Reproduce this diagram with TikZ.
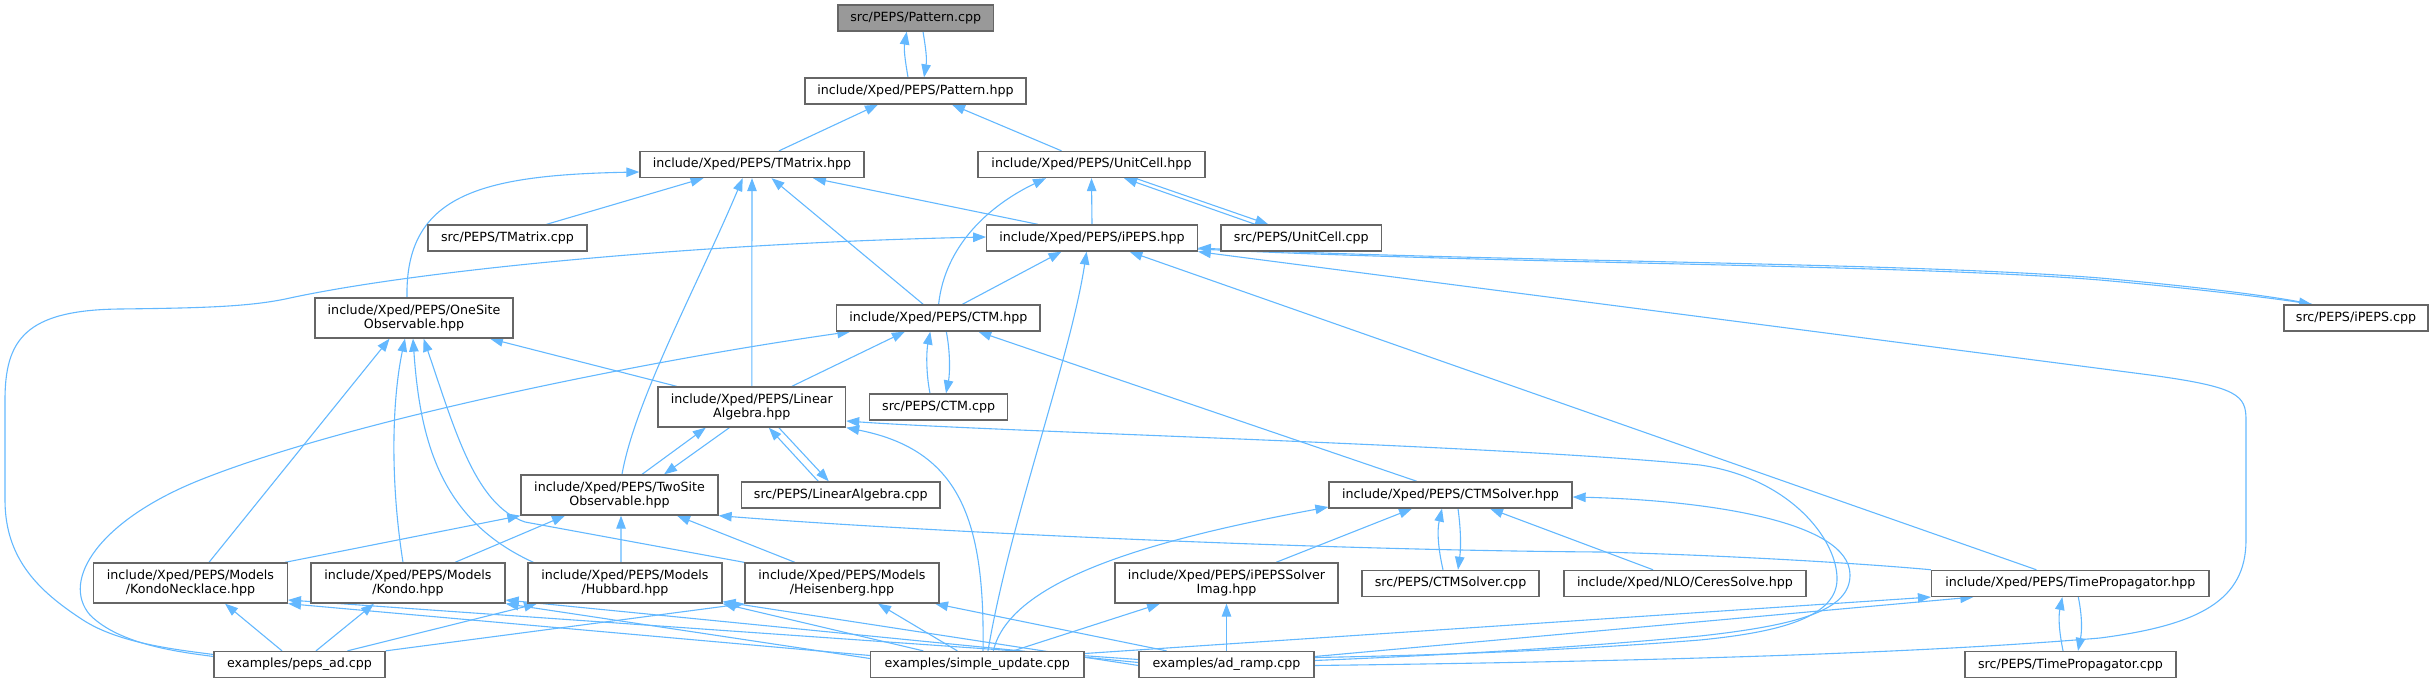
\documentclass[tikz,border=0pt]{standalone}
\usepackage{fontspec}
\setmainfont{DejaVu Sans}
\usetikzlibrary{arrows.meta}
\definecolor{edgeblue}{HTML}{63B8FF}
\definecolor{boxborder}{HTML}{666666}
\definecolor{rootfill}{HTML}{999999}
\newcommand\dxfont{\fontsize{12.66bp}{14bp}\selectfont}
\pgfdeclarelayer{background}
\pgfsetlayers{background,main}
\tikzset{
  box/.style={draw=boxborder, fill=white, line width=1.3bp, rectangle, inner sep=0pt,
    minimum height=26bp, align=center, font=\dxfont},
  box2/.style={box, minimum height=40bp},
  dep/.style={draw=edgeblue, line width=1.1bp, {Triangle[length=13bp,width=9.5bp]}-}
}
\begin{document}
\begin{tikzpicture}[x=1bp,y=-1bp]
\useasboundingbox (0,0) rectangle (2433,681);
% nodes
\node[box, fill=rootfill, minimum width=155.5bp] (patcpp) at (915.7,18) {src/PEPS/Pattern.cpp};
\node[box, minimum width=221bp] (pathpp) at (915.5,91) {include/Xped/PEPS/Pattern.hpp};
\node[box, minimum width=224bp] (tmhpp) at (752,164.5) {include/Xped/PEPS/TMatrix.hpp};
\node[box, minimum width=227bp] (uchpp) at (1091.5,164.5) {include/Xped/PEPS/UnitCell.hpp};
\node[box, minimum width=159bp] (tmcpp) at (507.5,238) {src/PEPS/TMatrix.cpp};
\node[box, minimum width=210.5bp] (ipepshpp) at (1092,238) {include/Xped/PEPS/iPEPS.hpp};
\node[box, minimum width=160.5bp] (uccpp) at (1301.3,238) {src/PEPS/UnitCell.cpp};
\node[box2, minimum width=198bp] (onesite) at (414,318) {include/Xped/PEPS/OneSite\\Observable.hpp};
\node[box, minimum width=203.5bp] (ctmhpp) at (938.3,318) {include/Xped/PEPS/CTM.hpp};
\node[box, minimum width=144bp] (ipepscpp) at (2356,318) {src/PEPS/iPEPS.cpp};
\node[box2, minimum width=187.5bp] (lahpp) at (751.8,407) {include/Xped/PEPS/Linear\\Algebra.hpp};
\node[box, minimum width=138bp] (ctmcpp) at (938.6,407) {src/PEPS/CTM.cpp};
\node[box2, minimum width=197bp] (twosite) at (619.5,495) {include/Xped/PEPS/TwoSite\\Observable.hpp};
\node[box, minimum width=198.5bp] (lacpp) at (840.8,495) {src/PEPS/LinearAlgebra.cpp};
\node[box, minimum width=243bp] (ctmsolverhpp) at (1450.5,495) {include/Xped/PEPS/CTMSolver.hpp};
\node[box2, minimum width=193.7bp] (kondonecklace) at (190.5,583) {include/Xped/PEPS/Models\\/KondoNecklace.hpp};
\node[box2, minimum width=194bp] (kondo) at (408,583) {include/Xped/PEPS/Models\\/Kondo.hpp};
\node[box2, minimum width=194bp] (hubbard) at (625,583) {include/Xped/PEPS/Models\\/Hubbard.hpp};
\node[box2, minimum width=194bp] (heisenberg) at (842,583) {include/Xped/PEPS/Models\\/Heisenberg.hpp};
\node[box2, minimum width=223bp] (ipepssolver) at (1226.5,583) {include/Xped/PEPS/iPEPSSolver\\Imag.hpp};
\node[box, minimum width=177bp] (ctmsolvercpp) at (1450.5,583.4) {src/PEPS/CTMSolver.cpp};
\node[box, minimum width=242bp] (ceres) at (1685,583.4) {include/Xped/NLO/CeresSolve.hpp};
\node[box, minimum width=277.5bp] (tphpp) at (2070.3,583.4) {include/Xped/PEPS/TimePropagator.hpp};
\node[box, minimum width=171bp] (pepsad) at (299.5,664.5) {examples/peps\_ad.cpp};
\node[box, minimum width=213.4bp] (simpleupdate) at (977.3,664.5) {examples/simple\_update.cpp};
\node[box, minimum width=175bp] (adramp) at (1226.5,664.5) {examples/ad\_ramp.cpp};
\node[box, minimum width=211bp] (tpcpp) at (2070.5,664.5) {src/PEPS/TimePropagator.cpp};

\begin{pgfonlayer}{background}
% Pattern
\draw[dep] ([xshift=-9bp]patcpp.south) .. controls +(-3,18) and +(-3,-18) .. ([xshift=-7.5bp]pathpp.north);
\draw[dep] ([xshift=8.5bp]pathpp.north) .. controls +(3,-18) and +(3,18) .. ([xshift=7.3bp]patcpp.south);
\draw[dep] ([xshift=-37.5bp]pathpp.south) -- ([xshift=27bp]tmhpp.north);
\draw[dep] ([xshift=36.5bp]pathpp.south) -- ([xshift=-30bp]uchpp.north);
% TMatrix
\draw[dep] ([yshift=-7.5bp]tmhpp.west) .. controls (480,175) and (405,195) .. ([xshift=-7bp]onesite.north);
\draw[dep] ([xshift=-48.5bp]tmhpp.south) -- ([xshift=39bp]tmcpp.north);
\draw[dep] ([xshift=-9.3bp]tmhpp.south) .. controls (700,280) and (635,400) .. ([xshift=2.5bp]twosite.north);
\draw[dep] (tmhpp.south) -- (lahpp.north);
\draw[dep] ([xshift=19.5bp]tmhpp.south) -- ([xshift=-15bp]ctmhpp.north);
\draw[dep] ([xshift=61bp]tmhpp.south) -- ([xshift=-54bp]ipepshpp.north);
% UnitCell
\draw[dep] ([xshift=-45.5bp]uchpp.south) .. controls (990,205) and (945,245) .. ([xshift=0.3bp]ctmhpp.north);
\draw[dep] (uchpp.south) -- (ipepshpp.north);
\draw[dep] ([xshift=32.5bp]uchpp.south) -- ([xshift=-46bp]uccpp.north);
\draw[dep] ([xshift=-33bp]uccpp.north) -- ([xshift=43.5bp]uchpp.south);
% iPEPS
\draw[dep] ([yshift=1bp]ipepshpp.west) .. controls (700,243) and (420,270) .. (290,298)
  .. controls (250,307) and (200,308) .. (120,309) .. controls (25,310) and (5,340) .. (5,400)
  -- (5,500) .. controls (5,560) and (40,592) .. (83,620) .. controls (120,644) and (180,650) .. ([yshift=10bp]pepsad.west);
\draw[dep] ([xshift=-88bp]ctmhpp.south) .. controls (650,360) and (350,420) .. (200,480)
  .. controls (100,520) and (60,580) .. (90,615) .. controls (120,645) and (180,652) .. ([yshift=8bp]pepsad.west);
\draw[dep] ([xshift=-30.5bp]ipepshpp.south) -- ([xshift=24bp]ctmhpp.north);
\draw[dep] ([xshift=-5.4bp]ipepshpp.south) .. controls (1070,360) and (1010,520) .. ([xshift=10.7bp]simpleupdate.north);
\draw[dep] ([xshift=37.5bp]ipepshpp.south) -- ([xshift=-34bp]tphpp.north);
\draw[dep] (ipepshpp.south east) -- (2150,375) .. controls (2238,387) and (2246,395) .. (2246,420)
  -- (2246,540) .. controls (2246,600) and (2200,625) .. (2100,638)
  .. controls (1900,655) and (1600,662) .. ([yshift=-1bp]adramp.east);
\draw[dep] ([yshift=-10bp]ipepshpp.east) .. controls (1500,262) and (1900,262) .. (2100,278)
  .. controls (2200,287) and (2280,297) .. ([xshift=-44bp]ipepscpp.north);
\draw[dep] ([xshift=-44bp]ipepscpp.north) .. controls (2278,299) and (2200,289) .. (2100,280)
  .. controls (1900,264) and (1500,264) .. ([yshift=-11bp]ipepshpp.east);
% CTM
\draw[dep] ([xshift=-8bp]ctmhpp.south) .. controls +(-4,20) and +(-4,-20) .. ([xshift=-8.6bp]ctmcpp.north);
\draw[dep] ([xshift=7.4bp]ctmcpp.north) .. controls +(4,-20) and +(4,20) .. ([xshift=8bp]ctmhpp.south);
\draw[dep] ([xshift=-33.4bp]ctmhpp.south) -- ([xshift=40bp]lahpp.north);
\draw[dep] ([xshift=40bp]ctmhpp.south) -- ([xshift=-33.5bp]ctmsolverhpp.north);
% OneSite
\draw[dep] ([xshift=76bp]onesite.south) -- ([xshift=-75bp]lahpp.north);
\draw[dep] ([xshift=-24.4bp]onesite.south) -- ([xshift=18.5bp]kondonecklace.north);
\draw[dep] ([xshift=-9bp]onesite.south) .. controls (392,400) and (390,480) .. ([xshift=-5bp]kondo.north);
\draw[dep] ([xshift=-1bp]onesite.south) .. controls (420,440) and (440,520) .. ([xshift=-91.5bp]hubbard.north);
\draw[dep] ([xshift=9.6bp]onesite.south) .. controls (455,430) and (475,505) .. (525,522) -- (heisenberg.north west);
% LinearAlgebra
\draw[dep] ([xshift=-46bp]lahpp.south) -- ([xshift=22.5bp]twosite.north);
\draw[dep] ([xshift=44.5bp]twosite.north) -- ([xshift=-22.4bp]lahpp.south);
\draw[dep] ([xshift=17bp]lahpp.south) -- ([xshift=-22.5bp]lacpp.north);
\draw[dep] ([xshift=-12bp]lacpp.north) -- ([xshift=27bp]lahpp.south);
\draw[dep] (lahpp.south east) .. controls (960,450) and (985,520) .. ([xshift=5.7bp]simpleupdate.north);
\draw[dep] ([yshift=-14bp]lahpp.east) .. controls (1000,432) and (1500,445) .. (1700,465)
  .. controls (1790,478) and (1838,540) .. (1837,580) .. controls (1836,620) and (1770,633) .. (1700,640)
  .. controls (1550,652) and (1400,656) .. ([yshift=7bp]adramp.east);
% TwoSite
\draw[dep] (twosite.south east) .. controls (900,530) and (1300,550) .. (1600,552)
  .. controls (1750,556) and (1880,565) .. (tphpp.north west);
\draw[dep] (twosite.south west) -- ([xshift=-3bp]kondonecklace.north east);
\draw[dep] ([xshift=-54.5bp]twosite.south) -- ([xshift=47bp]kondo.north);
\draw[dep] ([xshift=1.5bp]twosite.south) -- ([xshift=-4bp]hubbard.north);
\draw[dep] ([xshift=57.5bp]twosite.south) -- ([xshift=-47bp]heisenberg.north);
% CTMSolver
\draw[dep] ([yshift=-12bp]ctmsolverhpp.west) .. controls (1150,540) and (1010,580) .. ([xshift=16bp]simpleupdate.north);
\draw[dep] ([xshift=-38.5bp]ctmsolverhpp.south) -- ([xshift=49.5bp]ipepssolver.north);
\draw[dep] ([xshift=-8.5bp]ctmsolverhpp.south) .. controls +(-5,22) and +(-5,-22) .. ([xshift=-7.5bp]ctmsolvercpp.north);
\draw[dep] ([xshift=7.5bp]ctmsolvercpp.north) .. controls +(3,-22) and +(3,22) .. ([xshift=7.5bp]ctmsolverhpp.south);
\draw[dep] ([xshift=39.5bp]ctmsolverhpp.south) -- ([xshift=-32bp]ceres.north);
\draw[dep] ([yshift=-2bp]ctmsolverhpp.east) .. controls (1700,500) and (1850,520) .. (1850,575)
  .. controls (1850,610) and (1800,625) .. (1700,636) .. controls (1550,650) and (1400,657) .. ([yshift=4bp]adramp.east);
% peps_ad
\draw[dep] ([xshift=34.5bp]kondonecklace.south) -- ([xshift=-17.5bp]pepsad.north);
\draw[dep] ([xshift=-34bp]kondo.south) -- ([xshift=16.5bp]pepsad.north);
\draw[dep] ([xshift=-88bp]hubbard.south) -- ([xshift=48bp]pepsad.north);
\draw[dep] (heisenberg.south west) -- (pepsad.north east);
% simple_update and ad_ramp to models
\draw[dep] (kondonecklace.south east) -- ([yshift=9bp]simpleupdate.west);
\draw[dep] ([yshift=-17bp]kondonecklace.east) -- ([yshift=5bp]adramp.west);
\draw[dep] (kondo.south east) -- ([yshift=6bp]simpleupdate.west);
\draw[dep] ([yshift=-17bp]kondo.east) -- ([yshift=2bp]adramp.west);
\draw[dep] (hubbard.south east) -- ([xshift=-54bp]simpleupdate.north);
\draw[dep] ([yshift=2bp]hubbard.south east) -- ([yshift=-1bp]adramp.west);
\draw[dep] ([xshift=36bp]heisenberg.south) -- ([xshift=-20bp]simpleupdate.north);
\draw[dep] ([xshift=93bp]heisenberg.south) -- ([xshift=-60bp]adramp.north);
\draw[dep] ([xshift=-66.5bp]ipepssolver.south) -- ([xshift=36bp]simpleupdate.north);
\draw[dep] (ipepssolver.south) -- (adramp.north);
% TimePropagator
\draw[dep] (tphpp.south west) -- ([yshift=11bp]simpleupdate.east);
\draw[dep] ([xshift=-97bp]tphpp.south) -- ([yshift=8bp]adramp.east);
\draw[dep] ([xshift=-8bp]tphpp.south) .. controls +(-4,20) and +(-4,-20) .. ([xshift=-7.5bp]tpcpp.north);
\draw[dep] ([xshift=7.5bp]tpcpp.north) .. controls +(4,-20) and +(4,20) .. ([xshift=8bp]tphpp.south);
\end{pgfonlayer}
\end{tikzpicture}
\end{document}
